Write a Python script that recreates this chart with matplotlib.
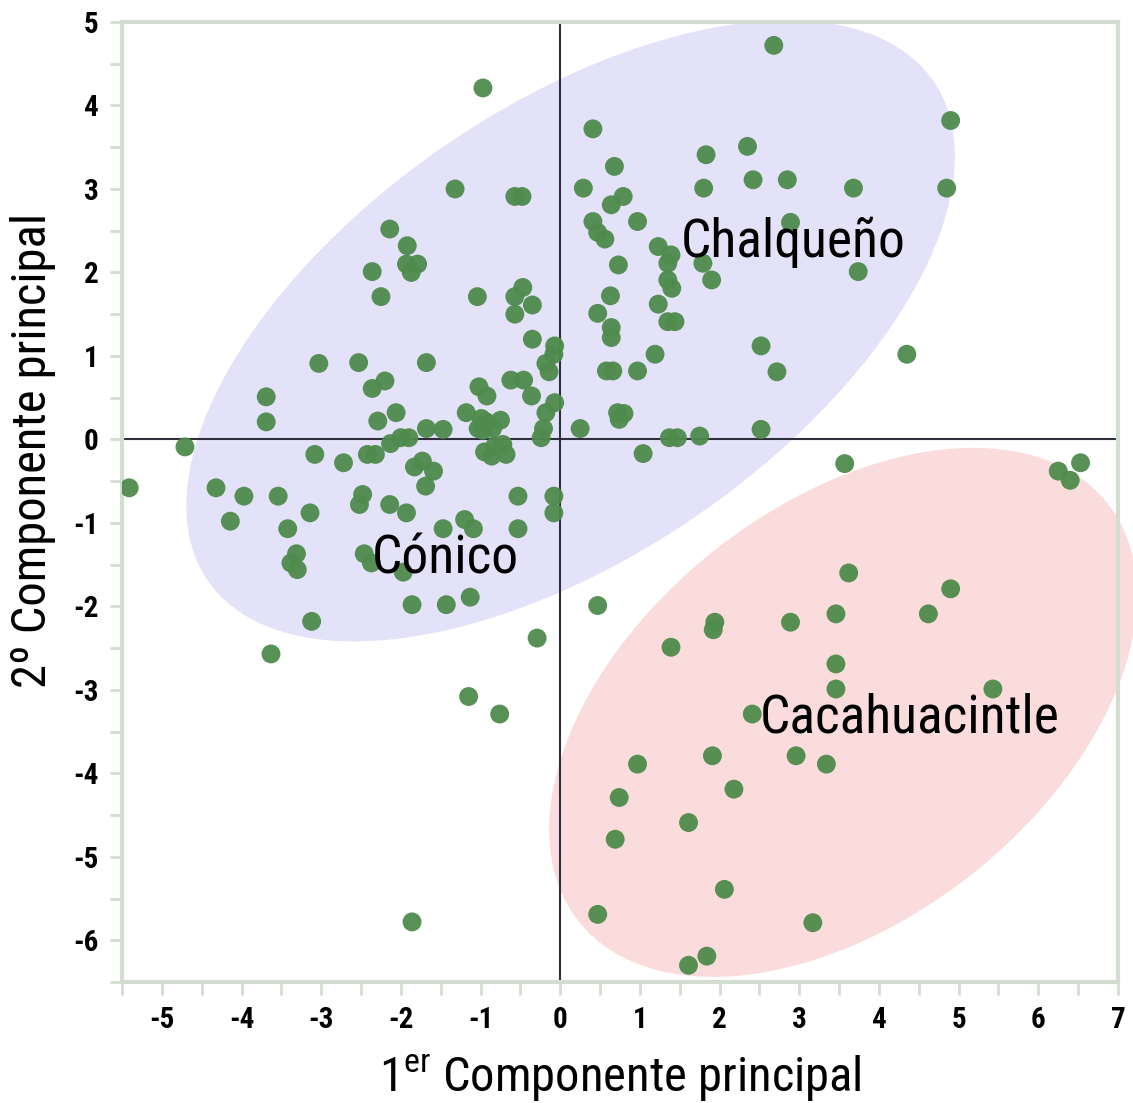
import numpy as np
import matplotlib
matplotlib.use("Agg")
import matplotlib.pyplot as plt
from matplotlib import font_manager as fm
from matplotlib.patches import Ellipse

# ---------------- data ----------------
pc1 = [
    # x<0, y>0
    -0.97, -1.32, -0.57, -0.48, -2.14, -1.92, -1.93, -1.79, -1.87, -2.36,
    -2.25, -1.04, -0.47, -0.57, -0.35, -0.57, -0.35, -0.07, -0.08, -0.18,
    -0.14, -3.03, -2.53, -1.68, -2.20, -2.36, -1.02, -0.92, -0.62, -0.46,
    -0.36, -0.07, -0.18, -3.69, -3.69, -2.06, -2.29, -1.18, -0.99, -0.93,
    -1.03, -0.97, -0.85, -0.75, -1.68, -1.47, -0.21, -0.24, -2.00, -1.90,
    # x<0, y<0
    -4.71, -5.41, -3.08, -2.72, -2.42, -2.32, -2.13, -1.83, -1.73, -1.59,
    -1.69, -0.95, -0.82, -0.72, -0.68, -0.86, -4.32, -3.97, -3.54, -4.14,
    -3.14, -3.42, -2.48, -2.52, -2.14, -1.93, -0.53, -0.08, -0.08, -1.47,
    -1.20, -1.09, -0.53, -3.31, -3.38, -3.30, -2.46, -2.37, -1.97, -3.12,
    -1.86, -1.43, -1.13, -3.63, -0.29, -1.15, -0.76, -1.86,
    # x>0, y>0
    2.68, 4.90, 0.41, 2.35, 0.68, 1.83, 0.29, 1.80, 2.42, 2.85,
    3.68, 4.85, 0.79, 0.64, 0.41, 0.47, 0.56, 0.97, 2.89, 1.23,
    1.39, 1.35, 1.79, 1.90, 0.73, 3.74, 1.35, 1.40, 0.63, 0.47,
    1.23, 0.64, 0.64, 1.35, 1.44, 2.52, 4.35, 1.19, 0.58, 0.66,
    0.97, 2.72, 0.72, 0.80, 0.74, 0.25, 2.52, 1.37, 1.47, 1.75,
    # x>0, y<0
    1.04, 3.57, 6.25, 6.40, 6.53, 0.47, 3.62, 4.90, 4.62, 3.46,
    2.89, 1.94, 1.92, 1.39, 3.46, 3.46, 5.43, 2.41, 1.91, 2.96,
    3.34, 0.97, 2.18, 0.74, 1.61, 0.69, 2.06, 0.47, 3.17, 1.84,
    1.61,
]
pc2 = [
    # x<0, y>0
    4.21, 3.00, 2.91, 2.91, 2.52, 2.32, 2.10, 2.10, 2.00, 2.01,
    1.71, 1.71, 1.82, 1.71, 1.61, 1.50, 1.20, 1.12, 1.02, 0.91,
    0.81, 0.91, 0.92, 0.92, 0.70, 0.61, 0.63, 0.52, 0.71, 0.71,
    0.52, 0.44, 0.32, 0.51, 0.21, 0.32, 0.22, 0.32, 0.25, 0.21,
    0.13, 0.11, 0.13, 0.23, 0.13, 0.12, 0.13, 0.02, 0.02, 0.02,
    # x<0, y<0
    -0.09, -0.58, -0.18, -0.28, -0.18, -0.18, -0.05, -0.33, -0.26, -0.38,
    -0.56, -0.15, -0.08, -0.06, -0.18, -0.20, -0.58, -0.68, -0.68, -0.98,
    -0.88, -1.07, -0.66, -0.78, -0.78, -0.88, -0.68, -0.68, -0.88, -1.07,
    -0.96, -1.07, -1.07, -1.37, -1.48, -1.56, -1.37, -1.48, -1.59, -2.18,
    -1.98, -1.98, -1.89, -2.57, -2.38, -3.08, -3.29, -5.78,
    # x>0, y>0
    4.72, 3.82, 3.72, 3.51, 3.27, 3.41, 3.01, 3.01, 3.11, 3.11,
    3.01, 3.01, 2.91, 2.81, 2.61, 2.48, 2.40, 2.61, 2.60, 2.31,
    2.21, 2.11, 2.11, 1.91, 2.09, 2.01, 1.91, 1.81, 1.72, 1.51,
    1.62, 1.34, 1.22, 1.41, 1.41, 1.12, 1.02, 1.02, 0.82, 0.82,
    0.82, 0.81, 0.32, 0.31, 0.24, 0.13, 0.12, 0.02, 0.02, 0.04,
    # x>0, y<0
    -0.17, -0.29, -0.38, -0.49, -0.28, -1.99, -1.60, -1.79, -2.09, -2.09,
    -2.19, -2.19, -2.28, -2.49, -2.69, -2.99, -2.99, -3.29, -3.79, -3.79,
    -3.89, -3.89, -4.19, -4.29, -4.59, -4.79, -5.39, -5.69, -5.79, -6.19,
    -6.30,
]

group_names = ["Chalqueño", "Cónico", "Cacahuacintle"]
group_label_x = [2.92, -1.44, 4.39]
group_label_y = [2.36, -1.43, -3.34]

x_ticks = [-5, -4, -3, -2, -1, 0, 1, 2, 3, 4, 5, 6, 7]
y_ticks = [-6, -5, -4, -3, -2, -1, 0, 1, 2, 3, 4, 5]
x_label_main = "Componente principal"
y_label = "2º Componente principal"

# ---------------- fonts ----------------
names = {f.name for f in fm.fontManager.ttflist}
narrow = "Liberation Sans"
for cand in ["Liberation Sans Narrow", "Arial Narrow", "Roboto Condensed",
             "Archivo Narrow", "PT Sans Narrow"]:
    if cand in names:
        narrow = cand
        break

plt.rcParams["axes.unicode_minus"] = False
plt.rcParams["font.family"] = [narrow, "DejaVu Sans"]
plt.rcParams["mathtext.fontset"] = "custom"
plt.rcParams["mathtext.rm"] = narrow

fig = plt.figure(figsize=(11.33, 11.03), dpi=100)
ax = fig.add_axes([122 / 1133, 1 - 982 / 1103, (1118 - 122) / 1133, (982 - 22) / 1103])
ax.set_xlim(-5.5, 7)
ax.set_ylim(-6.5, 5)

blue = Ellipse((0.13, 1.30), width=2 * 5.45, height=2 * 2.72, angle=32.5,
               facecolor="#e4e2f8", edgecolor="none", zorder=1)
red = Ellipse((3.55, -3.27), width=2 * 4.16, height=2 * 2.52, angle=35.5,
              facecolor="#fadcdc", edgecolor="none", zorder=1, clip_on=False)
ax.add_patch(blue)
ax.add_patch(red)

ax.axhline(0, color="#2e2e3c", lw=1.5, zorder=2)
ax.axvline(0, color="#2e2e3c", lw=1.5, zorder=2)

ax.scatter(pc1, pc2, s=185, c="#4e8b4c", edgecolors="none", alpha=0.95, zorder=3)

for name, lx, ly in zip(group_names, group_label_x, group_label_y):
    ax.text(lx, ly, name, fontsize=38.5, ha="center", va="center", color="black", zorder=4)

frame_c = "#d3ddd0"
for sp in ax.spines.values():
    sp.set_color(frame_c)
    sp.set_linewidth(3)
ax.set_xticks(x_ticks)
ax.set_yticks(y_ticks)
ax.set_xticks(np.arange(-5.5, 7.01, 0.5), minor=True)
ax.set_yticks(np.arange(-6.5, 5.01, 0.5), minor=True)
ax.tick_params(which="both", direction="out", length=9, width=2, color=frame_c)
ax.tick_params(axis="x", which="major", pad=8)
ax.tick_params(axis="y", which="major", pad=8)
for lab in ax.get_xticklabels() + ax.get_yticklabels():
    lab.set_fontsize(21)
    lab.set_fontweight("bold")
    lab.set_color("black")

fig.text(620 / 1133, 1 - 1078 / 1103, r"1$^{\mathrm{er}}$ " + x_label_main,
         fontsize=35, ha="center", va="center")
fig.text(33 / 1133, 1 - 450 / 1103, y_label, fontsize=35, ha="center", va="center",
         rotation=90)

fig.savefig("out.png", dpi=100)
